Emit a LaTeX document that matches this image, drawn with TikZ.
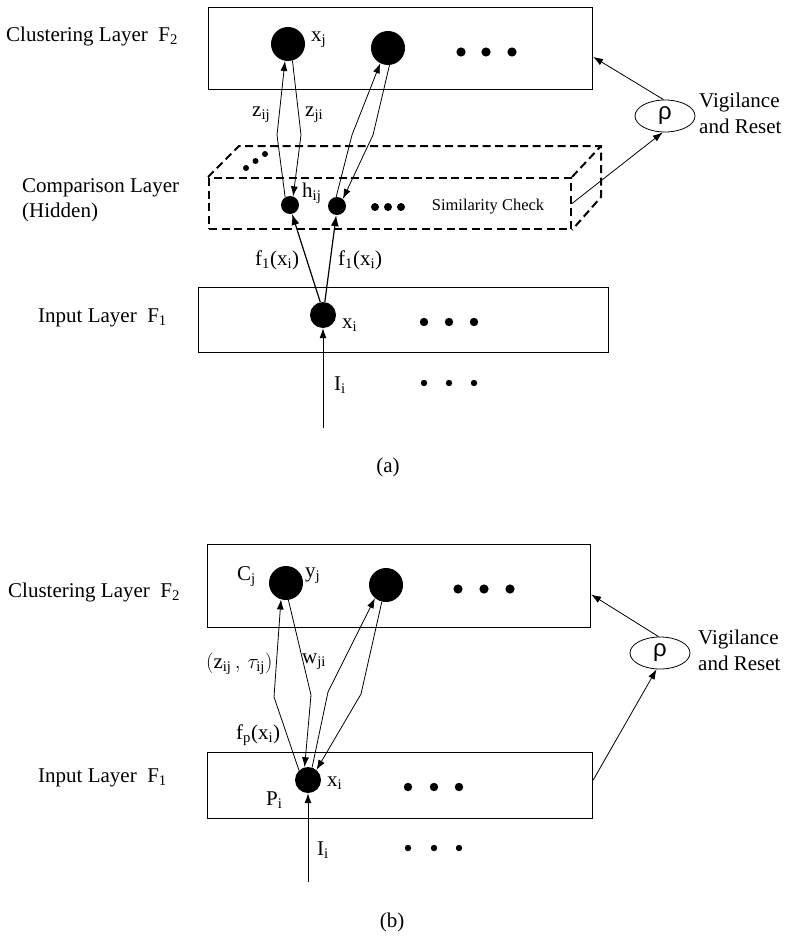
\documentclass[tikz,border=0pt]{standalone}
\usepackage{fontspec}
\setmainfont{Liberation Serif}
\newfontfamily\rhofont{Liberation Sans}
\usetikzlibrary{arrows.meta,shapes.geometric,calc}
\begin{document}
\begin{tikzpicture}[x=1pt,y=-1pt,
  every node/.style={font=\fontsize{21}{26}\selectfont, inner sep=0pt},
  layer/.style={draw, line width=1.1pt, anchor=north west},
  dlayer/.style={draw, line width=2pt, dash pattern=on 8pt off 4.5pt, anchor=north west},
  dline/.style={line width=2pt, dash pattern=on 8pt off 4.5pt},
  bignode/.style={circle, fill, minimum size=34pt},
  midnode/.style={circle, fill, minimum size=26pt},
  smallnode/.style={circle, fill, minimum size=18pt},
  arr/.style={line width=0.8pt, -{Latex[length=10pt,width=7pt]}},
  arrthick/.style={line width=1.2pt, -{Latex[length=11pt,width=8pt]}},
  vig/.style={draw, ellipse, line width=0.8pt, minimum width=60pt, minimum height=32pt, font=\rhofont\fontsize{24}{24}\selectfont},
  lbl/.style={anchor=west},
  small/.style={anchor=center, font=\fontsize{16.5}{20}\selectfont}
]
\useasboundingbox (0,0) rectangle (792,950);

% ================= (a) =================
\node[layer, minimum width=384pt, minimum height=82pt] (cl1) at (208,7) {};
\node[lbl] (lcl1) at (6,36) {Clustering Layer\ \ F\textsubscript{2}};
\node[bignode] (c1) at (288,44) {};
\node[bignode] (c2) at (388,48) {};
\fill (461,52) circle (4.6) (486,52) circle (4.6) (512,52) circle (4.6);
\node[lbl] (lxj) at (311,40) {x\textsubscript{j}};

% comparison layer (dashed 3D box)
\node[dlayer, minimum width=362pt, minimum height=51pt] (cmp) at (208,177) {};
\coordinate (bk1) at (239,146);
\coordinate (bk2) at (601,146);
\coordinate (bk3) at (601,197);
\draw[dline] (cmp.north west) -- (bk1) -- (bk2) -- (bk3) -- (cmp.south east);
\draw[dline] (cmp.north east) -- (bk2);
\fill (246,168) circle (3) (255.5,161) circle (3) (265,154) circle (3);
\node[lbl] (lcmp) at (22,188) {Comparison Layer};
\node[lbl] (lhid) at (22,212) {(Hidden)};
\node[smallnode] (h1) at (290,205) {};
\node[smallnode] (h2) at (337,206) {};
\fill (375,207) circle (4) (388,207) circle (4) (401,207) circle (4);
\node[small] (sim) at (488,207) {Similarity Check};
\node[lbl] (lhij) at (302,193) {h\textsubscript{ij}};

% input layer
\node[layer, minimum width=410pt, minimum height=65pt] (in1) at (198,287) {};
\node[lbl] (lin1) at (38,318) {Input Layer\ \ F\textsubscript{1}};
\node[midnode] (xi1) at (323,315) {};
\node[lbl] (lxi1) at (342,325) {x\textsubscript{i}};
\fill (424,322) circle (4.2) (449,322) circle (4.2) (474,322) circle (4.2);
\node[lbl] (lIi1) at (334,385) {I\textsubscript{i}};
\fill (424,383) circle (3.2) (449,383) circle (3.2) (474,383) circle (3.2);
\coordinate (src1) at (323,428);
\draw[arr] (src1) -- (xi1.south);

% connections (a)
\coordinate (k1) at (277,135);
\coordinate (k2) at (301,135);
\coordinate (k3) at (352,135);
\coordinate (k4) at (373,135);
\draw[arr] (h1.122) -- (k1) -- (c1.260);
\draw[arr] (c1.285) -- (k2) -- (h1.70);
\draw[arr] (h2.95) -- (k3) -- (c2.243);
\draw[arr] (c2.275) -- (k4) -- (h2.50);
\draw[arrthick] (xi1.102) -- (h1.283);
\draw[arrthick] (xi1.82) -- (h2.265);
\node[lbl] (lzij) at (252,115) {z\textsubscript{ij}};
\node[lbl] (lzji) at (305,115) {z\textsubscript{ji}};
\node[lbl] (lf1a) at (255,260) {f\textsubscript{1}(x\textsubscript{i})};
\node[lbl] (lf1b) at (338,260) {f\textsubscript{1}(x\textsubscript{i})};

% vigilance (a)
\node[vig] (rho1) at (665,116) {ρ};
\node[lbl, align=left] (lvig1) at (699,113) {Vigilance\\and Reset};
\coordinate (cl1r) at ($(cl1.north east)!0.6!(cl1.south east)$);
\draw[arr] (rho1.95) -- (cl1r);
\draw[arr] (cmp.east) -- (rho1.262);

\node (capa) at (388,467) {(a)};

% ================= (b) =================
\node[layer, minimum width=383pt, minimum height=83pt] (cl2) at (207,544) {};
\node[lbl] (lcl2) at (8,592) {Clustering Layer\ \ F\textsubscript{2}};
\node[bignode] (c3) at (286,583) {};
\node[bignode] (c4) at (386,585) {};
\fill (458,589) circle (4.6) (484,589) circle (4.6) (510,589) circle (4.6);
\node[lbl] (lcj) at (237,577) {C\textsubscript{j}};
\node[lbl] (lyj) at (305,576) {y\textsubscript{j}};

\node[layer, minimum width=385pt, minimum height=66pt] (in2) at (207,752) {};
\node[lbl] (lin2) at (38,778) {Input Layer\ \ F\textsubscript{1}};
\node[midnode] (xi2) at (308,780) {};
\node[lbl] (lxi2) at (327,783) {x\textsubscript{i}};
\node[lbl] (lpi) at (266,800) {P\textsubscript{i}};
\fill (408,787) circle (4.2) (434,787) circle (4.2) (459,787) circle (4.2);
\node[lbl] (lIi2) at (317,850) {I\textsubscript{i}};
\fill (408,848) circle (3.2) (434,848) circle (3.2) (459,848) circle (3.2);
\coordinate (src2) at (308,882);
\draw[arr] (src2) -- (xi2.south);

% connections (b)
\coordinate (m1) at (274,697);
\coordinate (m2) at (311,695);
\coordinate (m3) at (328,692);
\coordinate (m4) at (361,694);
\draw[arr] (xi2.133) -- (m1) -- (c3.253);
\draw[arr] (c3.278) -- (m2) -- (xi2.105);
\draw[arr] (xi2.72) -- (m3) -- (c4.230);
\draw[arr] (c4.256) -- (m4) -- (xi2.50);
\node[lbl] (lzt) at (206,664) {$(\mathrm{z}_{\mathrm{ij}}\,,\,\tau_{\mathrm{ij}})$};
\node[lbl] (lwji) at (302,662) {w\textsubscript{ji}};
\node[lbl] (lfp) at (236,735) {f\textsubscript{p}(x\textsubscript{i})};

% vigilance (b)
\node[vig] (rho2) at (660,653) {ρ};
\node[lbl, align=left] (lvig2) at (698,650) {Vigilance\\and Reset};
\coordinate (cl2r) at ($(cl2.north east)!0.6!(cl2.south east)$);
\coordinate (in2r) at ($(in2.north east)!0.42!(in2.south east)$);
\draw[arr] (rho2.95) -- (cl2r);
\draw[arr] (in2r) -- (rho2.258);

\node (capb) at (392,922) {(b)};
\end{tikzpicture}
\end{document}
